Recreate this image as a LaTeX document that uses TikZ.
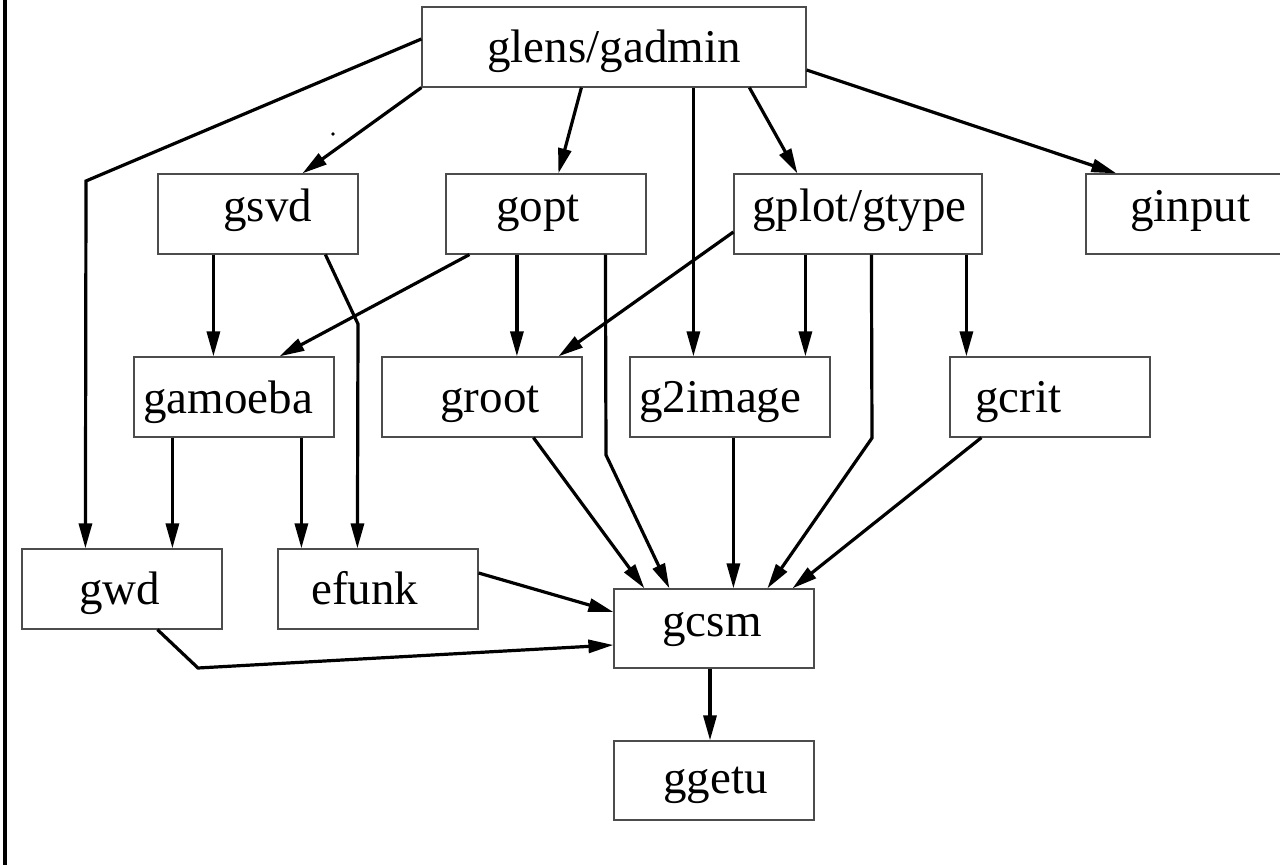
\documentclass[tikz,border=0pt]{standalone}
\usepackage{fontspec}
\setmainfont{Liberation Serif}
\usetikzlibrary{arrows.meta,calc}
\begin{document}
\begin{tikzpicture}[x=0.5pt,y=-0.5pt,
  box/.style={draw=black!70,line width=0.6pt,inner sep=0pt,minimum width=100pt,minimum height=40pt},
  lbl/.style={anchor=base west,inner sep=0pt,font=\fontsize{23.5pt}{28pt}\selectfont},
  conn/.style={line width=1.6pt,-{Triangle[length=12.5pt,width=6.5pt]}}]
\useasboundingbox (0,0) rectangle (1280,865);
\draw[line width=2pt] (5.3,0) -- (5.3,865);
% boxes
\node[box,minimum width=192pt] (glens) at (614,47) {};
\node[box] (gsvd) at (258,214) {};
\node[box] (gopt) at (546,214) {};
\node[box,minimum width=124pt] (gplot) at (858,214) {};
\node[box] (ginput) at (1186,214) {};
\node[box] (gamoeba) at (234,397) {};
\node[box] (groot) at (482,397) {};
\node[box] (g2image) at (730,397) {};
\node[box] (gcrit) at (1050,397) {};
\node[box] (gwd) at (122,589) {};
\node[box] (efunk) at (378,589) {};
\node[box,minimum height=39.5pt] (gcsm) at (714,628.5) {};
\node[box,minimum height=39.5pt] (ggetu) at (714,780.5) {};
% labels
\node[lbl] (t-glens) at (487,63) {glens/gadmin};
\node[lbl] (t-gsvd) at (223,222) {gsvd};
\node[lbl] (t-gopt) at (496,222) {gopt};
\node[lbl] (t-gplot) at (752,222) {gplot/gtype};
\node[lbl] (t-ginput) at (1130,222) {ginput};
\node[lbl] (t-gamoeba) at (143,414) {gamoeba};
\node[lbl] (t-groot) at (440,413) {groot};
\node[lbl] (t-g2image) at (639,413) {g2image};
\node[lbl] (t-gcrit) at (975,413) {gcrit};
\node[lbl] (t-gwd) at (79,605) {gwd};
\node[lbl] (t-efunk) at (311,605) {efunk};
\node[lbl] (t-gcsm) at (662,637) {gcsm};
\node[lbl] (t-ggetu) at (663,793) {ggetu};
% stray dot
\fill (333,134) circle (0.9pt);
% connectors
\draw[conn] (glens.south west) -- ([xshift=72.5pt]gsvd.north west);
\draw[conn] ([yshift=4pt]glens.west) -- (86,181) -- ([xshift=32pt]gwd.north west);
\draw[conn] ([xshift=80pt]glens.south west) -- ([xshift=56.5pt]gopt.north west);
\draw[conn] ([xshift=136pt]glens.south west) -- ([xshift=32pt]g2image.north west);
\draw[conn] ([xshift=164pt]glens.south west) -- ([xshift=32pt]gplot.north west);
\draw[conn] ([yshift=-11.5pt]glens.east) -- ([xshift=15.5pt]ginput.north west);
\draw[conn] ([xshift=28pt]gsvd.south west) -- ([xshift=40pt]gamoeba.north west);
\draw[conn] ([xshift=84pt]gsvd.south west) -- (358,324) -- ([xshift=40pt]efunk.north west);
\draw[conn] ([xshift=12pt]gopt.south west) -- ([xshift=73pt]gamoeba.north west);
\draw[conn] ([xshift=35.75pt]gopt.south west) -- ([xshift=67.75pt]groot.north west);
\draw[conn] ([xshift=80pt]gopt.south west) -- (606,455) -- ([xshift=28pt]gcsm.north west);
\draw[conn] ([yshift=-9pt]gplot.west) -- ([xshift=88.5pt]groot.north west);
\draw[conn] ([xshift=36pt]gplot.south west) -- ([xshift=88pt]g2image.north west);
\draw[conn] ([xshift=69pt]gplot.south west) -- (872,438) -- ([xshift=77pt]gcsm.north west);
\draw[conn] ([xshift=116.5pt]gplot.south west) -- ([xshift=8.5pt]gcrit.north west);
\draw[conn] ([xshift=76pt]groot.south west) -- ([xshift=15.5pt]gcsm.north west);
\draw[conn] ([xshift=52pt]g2image.south west) -- ([xshift=60pt]gcsm.north west);
\draw[conn] ([xshift=16pt]gcrit.south west) -- ([xshift=89.5pt]gcsm.north west);
\draw[conn] ([xshift=19.5pt]gamoeba.south west) -- ([xshift=75.5pt]gwd.north west);
\draw[conn] ([xshift=84pt]gamoeba.south west) -- ([xshift=12pt]efunk.north west);
\draw[conn] ([yshift=8pt]efunk.east) -- ([yshift=8.25pt]gcsm.west);
\draw[conn] ([xshift=68pt]gwd.south west) -- (198,668) -- ([yshift=-8.25pt]gcsm.west);
\draw[conn] ([xshift=-2pt]gcsm.south) -- ([xshift=-2pt]ggetu.north);
\end{tikzpicture}
\end{document}
